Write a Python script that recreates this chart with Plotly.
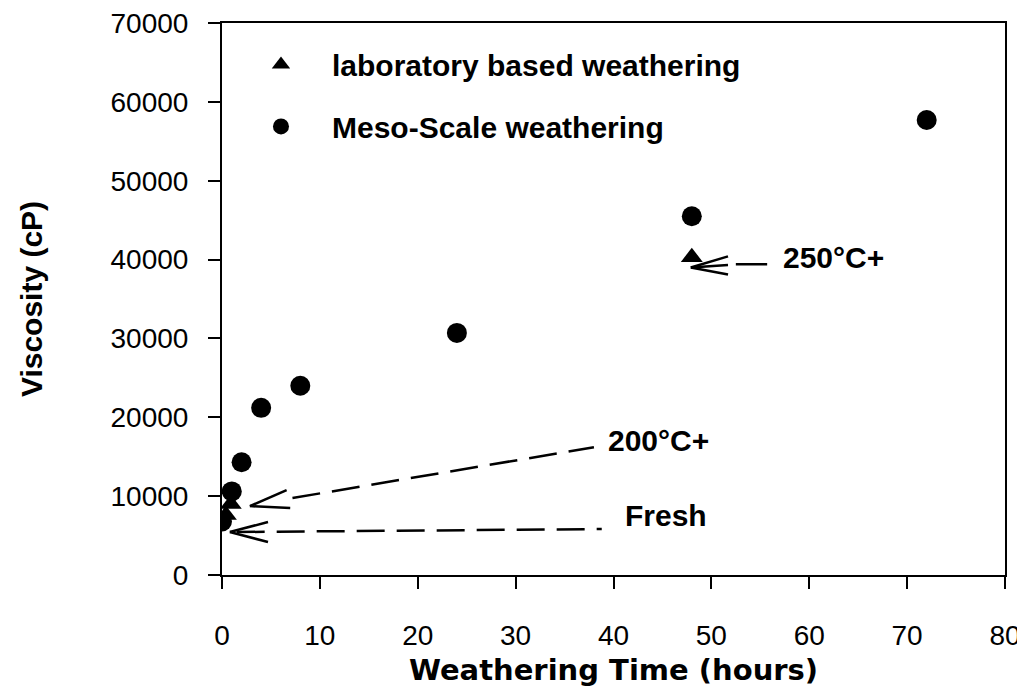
import plotly.graph_objects as go

# Data
meso_hours = [0, 1, 2, 4, 8, 24, 48, 72]
meso_visc = [6800, 10600, 14300, 21200, 24000, 30700, 45500, 57700]

lab_hours = [0.4, 0.9, 48]
lab_visc = [7600, 9000, 40300]

x_ticks = [0, 10, 20, 30, 40, 50, 60, 70, 80]
y_ticks = [0, 10000, 20000, 30000, 40000, 50000, 60000, 70000]

FONT = "Liberation Sans, Arial, sans-serif"
WIDE = "DejaVu Sans, Liberation Sans, sans-serif"

fig = go.Figure()
fig.add_trace(go.Scatter(
    x=lab_hours, y=lab_visc, mode="markers", name="laboratory based weathering",
    marker=dict(symbol="triangle-up", size=19, color="black"), legendgroup="a"))
fig.add_trace(go.Scatter(
    x=meso_hours, y=meso_visc, mode="markers", name="Meso-Scale weathering",
    marker=dict(symbol="circle", size=20, color="black"), legendgroup="b"))

# Annotation arrows (dashed shafts + open arrowheads)
dash = dict(color="black", width=2.5, dash="28px,12px")
solid = dict(color="black", width=2.5)
# 250°C+
fig.add_shape(type="line", x0=52.5, y0=39400, x1=55.7, y1=39400, line=solid)
for (xa, ya) in [(51.7, 40400), (51.7, 39300), (51.7, 38100)]:
    fig.add_shape(type="line", x0=47.9, y0=39000, x1=xa, y1=ya, line=solid)
# 200°C+
fig.add_shape(type="line", x0=7.2, y0=9760, x1=38.0, y1=16200, line=dash)
for (xa, ya) in [(6.6, 10770), (6.97, 8490)]:
    fig.add_shape(type="line", x0=2.85, y0=8740, x1=xa, y1=ya, line=solid)
# Fresh
fig.add_shape(type="line", x0=1.5, y0=5450, x1=38.8, y1=5830, line=dash)
for (xa, ya) in [(4.7, 6720), (4.7, 4180)]:
    fig.add_shape(type="line", x0=0.8, y0=5450, x1=xa, y1=ya, line=solid)

labels = [("250°C+", 57.1, 40200), ("200°C+", 39.2, 17000), ("Fresh", 41.0, 7600)]
for t, x, y in labels:
    fig.add_annotation(x=x, y=y, text="<b>%s</b>" % t, showarrow=False,
                       xanchor="left", yanchor="middle",
                       font=dict(family=FONT, size=30, color="black"))

# X axis title as an annotation so it stays inside the visible window
fig.add_annotation(x=0.5, y=-0.173, xref="paper", yref="paper",
                   text="<b>Weathering Time (hours)</b>", showarrow=False,
                   xanchor="center", yanchor="middle",
                   font=dict(family=WIDE, size=29, color="black"))

axis_common = dict(showgrid=False, zeroline=False, showline=True, linecolor="black",
                   linewidth=2, mirror=True, ticks="outside", ticklen=12,
                   tickwidth=1.5, tickcolor="black", automargin=False,
                   ticklabeloverflow="allow",
                   tickfont=dict(family=FONT, size=28, color="black"))

fig.update_xaxes(range=[0, 80], tickvals=x_ticks, ticktext=[str(v) for v in x_ticks],
                 ticklabelstandoff=22, **axis_common)
fig.update_yaxes(range=[0, 70000], tickvals=y_ticks, ticktext=[str(v) for v in y_ticks],
                 title=dict(text="<b>Viscosity (cP)</b>",
                            font=dict(family=FONT, size=30, color="black"), standoff=59),
                 ticklabelstandoff=14, **axis_common)

fig.update_layout(
    width=1025, height=690,
    margin=dict(l=214, r=28, t=15, b=123),
    plot_bgcolor="white", paper_bgcolor="white",
    showlegend=True,
    legend=dict(x=0.0102, y=0.972, xanchor="left", yanchor="top",
                bgcolor="rgba(0,0,0,0)", tracegroupgap=20, itemwidth=92,
                font=dict(family=FONT, size=30, color="black", weight="bold")),
)

fig.write_html("out.html")
